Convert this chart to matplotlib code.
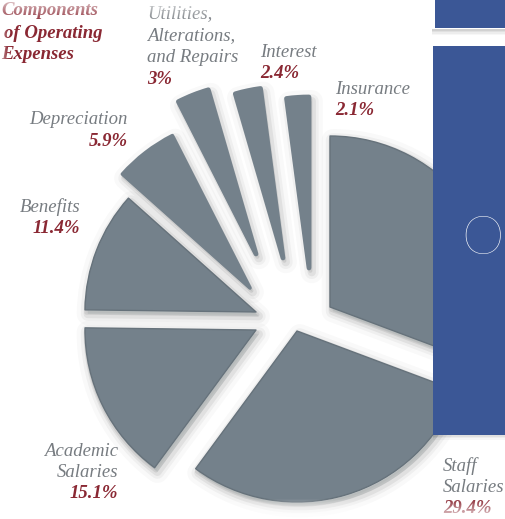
import matplotlib
matplotlib.use("Agg")
import numpy as np
import matplotlib.pyplot as plt
import matplotlib.patheffects as pe
from matplotlib.patches import Rectangle

W, H = 506, 519

# ---------------- data ----------------
categories = ["Insurance", "Interest", "Utilities, Alterations, and Repairs",
              "Depreciation", "Benefits", "Academic Salaries", "Staff Salaries", "Other"]
shares = [2.1, 2.4, 3.0, 5.9, 11.4, 15.1, 29.4, 30.7]
share_labels = ["2.1%", "2.4%", "3%", "5.9%", "11.4%", "15.1%", "29.4%", ""]
name_lines = [["Insurance"], ["Interest"], ["Utilities,", "Alterations,", "and Repairs"],
              ["Depreciation"], ["Benefits"], ["Academic", "Salaries"],
              ["Staff", "Salaries"], []]
title_lines = ["Components", "of Operating", "Expenses"]

# ---------------- layout / style (image pixel coords, y down) ----------------
PIE_CENTER = (290, 315)
PIE_R = 171
wedge_shift = [(19, -47), (-7, -57), (-34, -61), (-40, -27), (-34, -3),
               (-34, 15), (7, 16), (40, -8)]
edge_width = [3.4, 3.4, 3.4, 2.6, 1.0, 1.0, 1.0, 1.0]
label_anchor = [(335, 94, "left"), (260, 57, "left"), (147, 18, "left"),
                (128, 124, "right"), (80, 212, "right"), (118, 456, "right"),
                (443, 471, "left"), None]
label_step = [21, 21, 22, 22, 21, 21, 21, 21]
title_anchor = [(1, 15), (4, 38), (1, 59)]
FS = 13.5
SERIF = "Liberation Serif"
GRAY = "#777c81"
RED = "#8a2833"
WEDGE = "#74818b"
EDGE = "#66727b"
BLUE = "#3b5796"

fig = plt.figure(figsize=(W / 100, H / 100), dpi=100)
ax = fig.add_axes([0, 0, 1, 1])

cx, cy = PIE_CENTER
wedges, _ = ax.pie(shares, startangle=90, counterclock=True, radius=PIE_R,
                   center=(cx, H - cy), colors=[WEDGE] * len(shares),
                   wedgeprops=dict(edgecolor=EDGE, linewidth=1.0, joinstyle="round"),
                   frame=True)
shadow = [pe.Stroke(linewidth=16, foreground="black", alpha=0.025, offset=(2, -3)),
          pe.Stroke(linewidth=10, foreground="black", alpha=0.04, offset=(2, -3)),
          pe.Stroke(linewidth=6, foreground="black", alpha=0.06, offset=(2, -3)),
          pe.Stroke(linewidth=3, foreground="black", alpha=0.08, offset=(1, -2)),
          pe.Normal()]
for w, (dx, dy), lw in zip(wedges, wedge_shift, edge_width):
    w.set_center((cx + dx, H - cy - dy))
    w.set_linewidth(lw)
    if lw > 1.5:
        w.set_edgecolor(WEDGE)
    w.set_path_effects(shadow)

ax.set_xlim(0, W)
ax.set_ylim(0, H)
ax.axis("off")

# labels
for i, lines in enumerate(name_lines):
    anc = label_anchor[i]
    if anc is None:
        continue
    x, y0, ha = anc
    step = label_step[i]
    for j, line in enumerate(lines):
        ax.text(x, H - (y0 + j * step), line, ha=ha, va="baseline", fontsize=FS,
                fontstyle="italic", family=SERIF, color=GRAY, zorder=5)
    ax.text(x, H - (y0 + len(lines) * step), share_labels[i], ha=ha, va="baseline",
            fontsize=FS, fontstyle="italic", fontweight="bold", family=SERIF,
            color=RED, zorder=5)

for (x, y), line in zip(title_anchor, title_lines):
    ax.text(x, H - y, line, ha="left", va="baseline", fontsize=FS, fontstyle="italic",
            fontweight="bold", family=SERIF, color=RED, zorder=5)

# edge fades (white vignette at top, bottom, left)
yy, xx = np.mgrid[0:H, 0:W]
a_top = np.clip(1 - yy / 20.0, 0, 1) * 0.85
a_bot = np.clip((yy - 496) / 23.0, 0, 1) * 0.75
a_left = np.clip(1 - xx / 8.0, 0, 1) * 0.6
alpha = np.maximum(np.maximum(a_top, a_bot), a_left)
rgba = np.ones((H, W, 4))
rgba[..., 3] = alpha
ax.imshow(rgba, extent=(0, W, H, 0), origin="upper", zorder=8, interpolation="bilinear")
ax.set_xlim(0, W)
ax.set_ylim(0, H)

# blue panels
for k, a in enumerate([0.18, 0.12, 0.07, 0.03]):
    ax.add_patch(Rectangle((432, H - 29 - (k + 1) * 1.5), W - 432, 1.5, color="black",
                           alpha=a, lw=0, zorder=9))
ax.add_patch(Rectangle((435, H - 28), W - 435, 28, color=BLUE, lw=0, zorder=10))
for k, a in enumerate([0.12, 0.07, 0.03]):
    ax.add_patch(Rectangle((433, H - 435 - (k + 1) * 1.5), W - 433, 1.5, color="black",
                           alpha=a, lw=0, zorder=9))
ax.add_patch(Rectangle((433, H - 435), W - 433, 435 - 46, color=BLUE, lw=0, zorder=10))
ax.text(483, H - 239, "O", color="white", fontsize=39, family="Lato", fontweight="light",
        ha="center", va="center", zorder=11)

fig.savefig("out.png", dpi=100)
